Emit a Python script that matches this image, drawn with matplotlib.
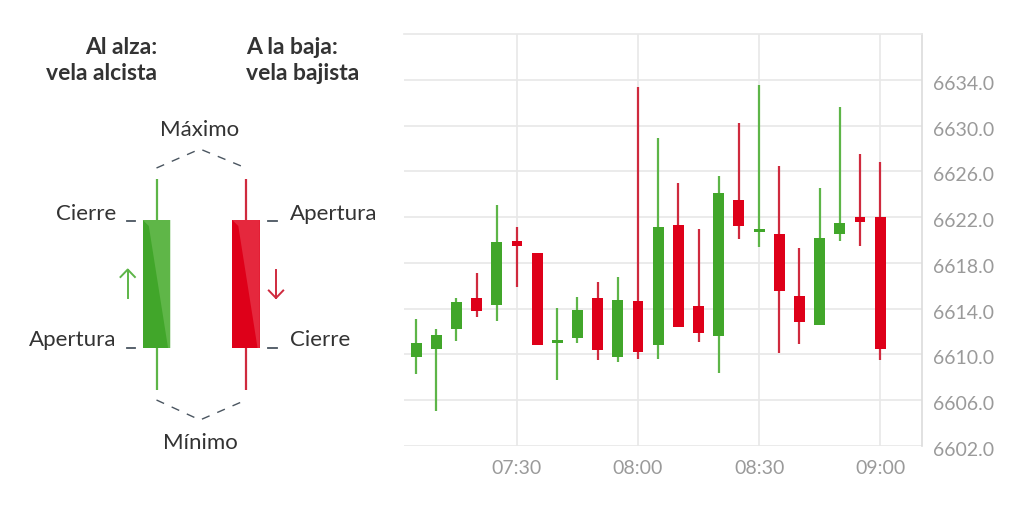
import matplotlib.pyplot as plt
from matplotlib.patches import Rectangle, Polygon
from matplotlib.transforms import ScaledTranslation

plt.rcParams['font.family'] = ['Lato', 'DejaVu Sans']

# candle data (5 minute bars)
times = ["07:05", "07:10", "07:15", "07:20", "07:25", "07:30", "07:35", "07:40",
         "07:45", "07:50", "07:55", "08:00", "08:05", "08:10", "08:15", "08:20",
         "08:25", "08:30", "08:35", "08:40", "08:45", "08:50", "08:55", "09:00"]
opens = [6609.8, 6610.5, 6612.2, 6614.9, 6614.3, 6619.9, 6618.9, 6611.0,
         6611.4, 6614.9, 6609.8, 6614.7, 6610.8, 6621.3, 6614.2, 6611.6,
         6623.5, 6620.7, 6620.5, 6615.1, 6612.6, 6620.5, 6622.0, 6622.0]
closes = [6611.0, 6611.7, 6614.6, 6613.8, 6619.8, 6619.5, 6610.8, 6611.3,
          6613.9, 6610.4, 6614.8, 6610.2, 6621.1, 6612.4, 6611.9, 6624.1,
          6621.2, 6620.9, 6615.5, 6612.8, 6620.2, 6621.5, 6621.6, 6610.5]
highs = [6613.1, 6612.2, 6614.9, 6617.1, 6623.1, 6621.1, 6618.9, 6614.1,
         6615.0, 6616.3, 6616.8, 6633.4, 6628.9, 6625.0, 6621.0, 6625.6,
         6630.2, 6633.5, 6626.5, 6619.3, 6624.5, 6631.6, 6627.5, 6626.8]
lows = [6608.3, 6605.1, 6611.2, 6613.3, 6612.9, 6615.9, 6610.8, 6607.8,
        6611.0, 6609.5, 6609.3, 6609.6, 6609.6, 6612.4, 6611.1, 6608.4,
        6620.1, 6619.4, 6610.1, 6610.9, 6612.6, 6619.9, 6619.5, 6609.5]

yticks = [6602, 6606, 6610, 6614, 6618, 6622, 6626, 6630, 6634]
xtick_labels = ["07:30", "08:00", "08:30", "09:00"]

green = "#41a62a"
green_wick = "#5db548"
red = "#de0019"
red_wick = "#cf2a3e"
grid_c = "#e8e8e8"
text_c = "#9a9a9a"
dark = "#333333"


def to_min(t):
    h, m = t.split(":")
    return int(h) * 60 + int(m)


fig = plt.figure(figsize=(10.24, 5.09), dpi=100)
ax = fig.add_axes([0.3945, 0.1238, 0.5056, 0.8094])

x = [to_min(t) for t in times]
w = 2.7
for xi, o, c, h, l in zip(x, opens, closes, highs, lows):
    col = green if c >= o else red
    wc = green_wick if c >= o else red_wick
    ax.plot([xi, xi], [l, h], color=wc, lw=1.6, zorder=2, solid_capstyle='butt')
    lo, hi = min(o, c), max(o, c)
    ax.add_patch(Rectangle((xi - w / 2, lo), w, max(hi - lo, 0.25),
                           facecolor=col, edgecolor='none', zorder=3))

ax.set_xlim(to_min("07:02"), to_min("09:10") + 0.3)
ax.set_ylim(6602, 6638)
ax.set_yticks(yticks)
ax.set_yticklabels(["%.1f" % v for v in yticks])
ax.set_xticks([to_min(t) for t in xtick_labels])
ax.set_xticklabels(xtick_labels)
ax.yaxis.tick_right()
ax.tick_params(axis='y', length=0, pad=8, labelsize=14, labelcolor=text_c)
ax.tick_params(axis='x', length=0, pad=10, labelsize=14, labelcolor=text_c)
shift = ScaledTranslation(0, -3 / 100, fig.dpi_scale_trans)
for lab in ax.get_yticklabels():
    lab.set_transform(lab.get_transform() + shift)
ax.grid(True, color=grid_c, lw=1.2, zorder=0)
for s in ['left', 'bottom']:
    ax.spines[s].set_visible(False)
ax.spines['top'].set_color(grid_c)
ax.spines['top'].set_linewidth(1.2)
ax.spines['right'].set_color('#dcdcdc')
ax.spines['right'].set_linewidth(1.2)

# left explanation diagram, in pixel space
d = fig.add_axes([0, 0, 400 / 1024, 1])
d.set_xlim(0, 400)
d.set_ylim(509, 0)
d.axis('off')

body_top, body_bot = 220, 348
wick_top, wick_bot = 179, 390
bw = 27.5
for cx, dk, lt, wc in [(156.5, green, "#5fb648", green_wick),
                       (246, red, "#e5283d", red_wick)]:
    d.plot([cx, cx], [wick_top, wick_bot], color=wc, lw=1.6, solid_capstyle='butt')
    left = cx - bw / 2
    d.add_patch(Rectangle((left, body_top), bw, body_bot - body_top,
                          facecolor=dk, edgecolor='none', zorder=3))
    d.add_patch(Polygon([(left, body_top), (left + bw, body_top),
                         (left + bw, body_bot), (left + 0.92 * bw, body_bot),
                         (left + 0.22 * bw, body_top + 6)],
                        closed=True, facecolor=lt, edgecolor='none', zorder=4))

d.plot([156.5, 200, 246], [168, 149, 168], color='#4a5560', lw=1, ls=(0, (6, 6)))
d.plot([156.5, 200, 246], [400, 420, 400], color='#4a5560', lw=1, ls=(0, (6, 6)))

for y0 in [221, 347.5]:
    d.plot([127, 134.5], [y0, y0], color='#4a5560', lw=1.3)
    d.plot([268, 276.5], [y0, y0], color='#4a5560', lw=1.3)

# up / down arrows
d.plot([127.7, 127.7], [298, 269.5], color=green_wick, lw=1.4)
d.plot([120.5, 127.7, 134.9], [277, 269.5, 277], color=green_wick, lw=1.4)
d.plot([276, 276], [270, 298], color=red_wick, lw=1.4)
d.plot([268.8, 276, 283.2], [290.5, 298, 290.5], color=red_wick, lw=1.4)

fs = 16
d.text(200, 130, "Máximo", ha='center', va='center', fontsize=fs, color=dark)
d.text(200, 443, "Mínimo", ha='center', va='center', fontsize=fs, color=dark)
d.text(116, 214, "Cierre", ha='right', va='center', fontsize=fs, color=dark)
d.text(116, 340, "Apertura", ha='right', va='center', fontsize=fs, color=dark)
d.text(290, 214, "Apertura", ha='left', va='center', fontsize=fs, color=dark)
d.text(290, 340, "Cierre", ha='left', va='center', fontsize=fs, color=dark)

d.text(157, 47, "Al alza:", ha='right', va='center', fontsize=16.5, color=dark, fontweight='bold')
d.text(157, 73.5, "vela alcista", ha='right', va='center', fontsize=16.5, color=dark, fontweight='bold')
d.text(246, 47, "A la baja:", ha='left', va='center', fontsize=16.5, color=dark, fontweight='bold')
d.text(246, 73.5, "vela bajista", ha='left', va='center', fontsize=16.5, color=dark, fontweight='bold')

fig.savefig("out.png", dpi=100)
